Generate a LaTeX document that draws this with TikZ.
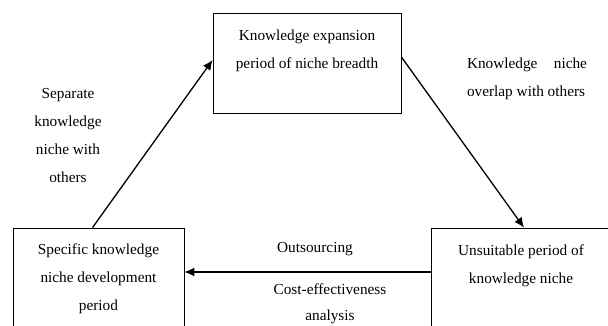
\documentclass[tikz,border=0pt]{standalone}
\usepackage{fontspec}
\setmainfont{Liberation Serif}
\usetikzlibrary{arrows.meta}
\begin{document}
\begin{tikzpicture}[x=1pt, y=-1pt, font=\fontsize{15.3}{28}\selectfont]
  \tikzstyle{period} = [draw, line width=0.8pt, align=center, inner sep=0pt]
  \tikzstyle{flow} = [line width=1.3pt, -{Latex[length=10pt, width=9pt]}]
  \tikzstyle{note} = [align=center, inner sep=0pt]
  \clip (0, 0) rectangle (608, 325);
  \node[period, minimum width=188pt, minimum height=100pt] (expansion) at (307, 63) {Knowledge expansion\\period of niche breadth\\\mbox{}};
  \node[period, minimum width=171pt, minimum height=102pt] (specific) at (98.5, 279) {Specific knowledge\\niche development\\period};
  \node[period, minimum width=180pt, minimum height=100pt] (unsuitable) at (521, 278) {Unsuitable period of\\knowledge niche\\\mbox{}};
  \node[note] (separate) at (68, 135.5) {Separate\\knowledge\\niche with\\others};
  \node[note, text width=120pt, align=justify] (overlap) at (527, 79) {Knowledge niche overlap with others};
  \node[note] (outsourcing) at (315, 249) {Outsourcing};
  \node[note, font=\fontsize{15.3}{26}\selectfont] (cost) at (330, 304) {Cost-effectiveness\\analysis};
  \draw[flow] ([xshift=-6pt]specific.north) -- ([yshift=3pt]expansion.west);
  \draw[flow] ([yshift=6pt]expansion.east) -- ([xshift=3pt]unsuitable.north);
  \draw[flow] ([yshift=6pt]unsuitable.west) -- ([yshift=6pt]unsuitable.west -| specific.east);
\end{tikzpicture}
\end{document}
